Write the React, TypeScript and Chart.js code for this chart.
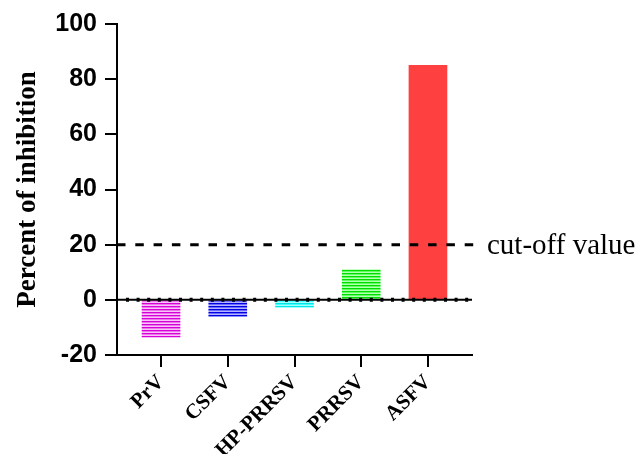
import React, { useEffect, useRef } from "react";
import { Chart, registerables } from "chart.js";

Chart.register(...registerables);

const categories = ["PrV", "CSFV", "HP-PRRSV", "PRRSV", "ASFV"];
const values = [-13.5, -6, -2.7, 11, 85];
const yTicks = [-20, 0, 20, 40, 60, 80, 100];
const cutOff = 20;
const cutOffLabel = "cut-off value";
const yTitle = "Percent of inhibition";

const stripeColors = [
  ["#d800d8", "#ea78ea", "#f6c4f6"],
  ["#0000e0", "#6a6aff", "#b4b4ff"],
  ["#00e6e6", "#40ffff", "#a8ffff"],
  ["#00dc00", "#60ff60", "#b4ffb4"],
];
const solidRed = "#ff4040";

function makePattern(ctx: CanvasRenderingContext2D, cols: string[]) {
  const c = document.createElement("canvas");
  c.width = 4;
  c.height = cols.length;
  const g = c.getContext("2d")!;
  cols.forEach((col, i) => {
    g.fillStyle = col;
    g.fillRect(0, i, 4, 1);
  });
  return ctx.createPattern(c, "repeat") as CanvasPattern;
}

export default function App() {
  const ref = useRef<HTMLCanvasElement>(null);
  useEffect(() => {
    const canvas = ref.current!;
    const ctx = canvas.getContext("2d")!;
    const colors: (string | CanvasPattern)[] = stripeColors.map((c) => makePattern(ctx, c));
    colors.push(solidRed);

    const linesPlugin = {
      id: "lines",
      afterDatasetsDraw(chart: any) {
        const { ctx, chartArea, scales } = chart;
        const y0 = scales.y.getPixelForValue(0);
        const yc = scales.y.getPixelForValue(cutOff);
        ctx.save();
        // zero line
        ctx.strokeStyle = "#000";
        ctx.lineWidth = 2;
        ctx.beginPath();
        ctx.moveTo(chartArea.left, y0);
        ctx.lineTo(chartArea.right, y0);
        ctx.stroke();
        ctx.lineWidth = 4;
        ctx.setLineDash([3, 7.6]);
        ctx.lineDashOffset = 0;
        ctx.beginPath();
        ctx.moveTo(chartArea.left + 9, y0);
        ctx.lineTo(chartArea.right, y0);
        ctx.stroke();
        // cut-off line
        ctx.lineWidth = 3;
        ctx.setLineDash([8.5, 9.8]);
        ctx.beginPath();
        ctx.moveTo(chartArea.left, yc);
        ctx.lineTo(chartArea.right + 10, yc);
        ctx.stroke();
        ctx.setLineDash([]);
        ctx.fillStyle = "#000";
        ctx.font = "29px 'Liberation Serif', 'Times New Roman', serif";
        ctx.textAlign = "left";
        ctx.textBaseline = "alphabetic";
        ctx.fillText(cutOffLabel, chartArea.right + 15, yc + 9);
        ctx.restore();
      },
    };

    const chart = new Chart(ctx, {
      type: "bar",
      data: {
        datasets: [
          {
            data: categories.map((_, i) => ({ x: i, y: values[i] })),
            backgroundColor: colors as any,
            borderWidth: 0,
            barThickness: 38,
          },
        ],
      },
      options: {
        responsive: false,
        animation: false,
        layout: { padding: { top: 24, right: 169, bottom: 0, left: 0 } },
        plugins: { legend: { display: false }, tooltip: { enabled: false } },
        scales: {
          x: {
            type: "linear",
            min: -0.66,
            max: 4.66,
            offset: false,
            afterBuildTicks: (scale: any) => {
              scale.ticks = categories.map((_, i) => ({ value: i }));
            },
            afterFit: (scale: any) => {
              scale.height = 99;
            },
            ticks: {
              autoSkip: false,
              maxRotation: 45,
              minRotation: 45,
              padding: 3,
              color: "#000",
              font: { family: "'Liberation Serif', 'Times New Roman', serif", size: 21, weight: "bold" },
              callback: (v: any) => categories[Math.round(Number(v))] ?? "",
            },
            grid: { offset: false, drawOnChartArea: false, drawTicks: true, tickLength: 12, color: "#000", lineWidth: 2 },
            border: { color: "#000", width: 2 },
          },
          y: {
            min: -20,
            max: 100,
            afterBuildTicks: (scale: any) => {
              scale.ticks = yTicks.map((v) => ({ value: v }));
            },
            afterFit: (scale: any) => {
              scale.width = 117;
            },
            ticks: {
              padding: 8,
              color: "#000",
              font: { family: "'Liberation Sans', Arial, sans-serif", size: 25, weight: "bold" },
            },
            title: {
              display: true,
              text: yTitle,
              color: "#000",
              padding: { top: 12, bottom: 0 },
              font: { family: "'Liberation Serif', 'Times New Roman', serif", size: 27, weight: "bold" },
            },
            grid: { drawOnChartArea: false, drawTicks: true, tickLength: 12, color: "#000", lineWidth: 2 },
            border: { color: "#000", width: 2 },
          },
        },
      } as any,
      plugins: [linesPlugin],
    });
    return () => chart.destroy();
  }, []);
  return (
    <div style={{ position: "fixed", left: 0, top: 0, width: 641, height: 454, background: "#fff" }}>
      <canvas ref={ref} width={641} height={454} style={{ display: "block", width: 641, height: 454 }} />
    </div>
  );
}
